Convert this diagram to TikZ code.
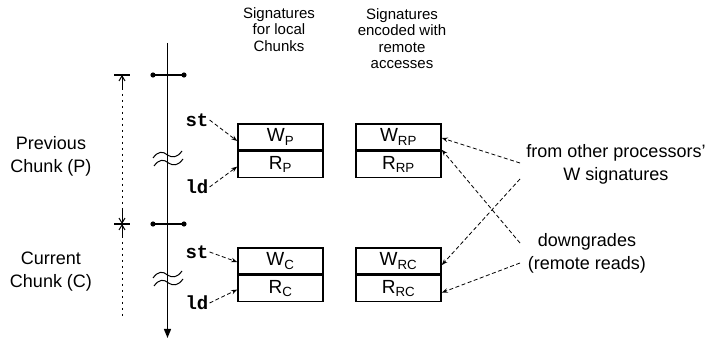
\documentclass[tikz,border=0pt]{standalone}
\usepackage{fontspec}
\setmainfont{Liberation Sans}
\setmonofont{Liberation Mono}
\usetikzlibrary{arrows.meta}
\tikzset{
  sigbox/.style={draw, line width=1.6pt, minimum width=85pt, minimum height=26pt,
    inner sep=0pt, font=\fontsize{19}{19}\selectfont},
  lbl/.style={align=center, font=\fontsize{18}{23}\selectfont, inner sep=0pt},
  hdr/.style={align=center, font=\fontsize{15}{16.5}\selectfont, inner sep=0pt},
  op/.style={font=\fontsize{19}{19}\ttfamily\bfseries, inner sep=1pt},
  feed/.style={dashed, dash pattern=on 4pt off 2.5pt, line width=0.8pt,
    -{Stealth[length=6pt,width=4.5pt,open]}},
  span/.style={line width=1pt, dash pattern=on 1.6pt off 4.4pt},
  spantip/.style={line width=1pt, -{Straight Barb[length=5pt,width=6pt]}},
  timeline/.style={line width=1.3pt, -{Triangle[length=9pt,width=7pt]}},
  tick/.style={line width=1.3pt},
  brk/.style={line width=1pt},
}
\begin{document}
\begin{tikzpicture}[x=1pt,y=-1pt]
\useasboundingbox (0,0) rectangle (713,339);

% column headings
\node[hdr] (hloc) at (279,29.5) {Signatures\\for local\\Chunks};
\node[hdr] (hrem) at (402,38.5) {Signatures\\encoded with\\remote\\accesses};

% time axis
\coordinate (ttop) at (167.5,43);
\coordinate (tbot) at (167.5,338);
\draw[timeline] (ttop) -- (tbot);

% chunk boundaries
\coordinate (b1l) at (153,75);  \coordinate (b1r) at (184,75);
\coordinate (b2l) at (153,224); \coordinate (b2r) at (184,224);
\draw[tick] (b1l) -- (b1r);
\draw[tick] (b2l) -- (b2r);
\foreach \p in {b1l,b1r,b2l,b2r} \fill (\p) circle (2.6pt);

% breaks in the time axis
\foreach \y in {155,275} {
  \draw[brk] (153,\y+3) .. controls (158,\y-4) and (163,\y-4) .. (167.5,\y)
             .. controls (172,\y+3) and (177,\y+3) .. (182,\y-4);
  \draw[brk] (154,\y+11) .. controls (159,\y+4) and (164,\y+4) .. (168.5,\y+8)
             .. controls (173,\y+11) and (178,\y+11) .. (183,\y+4);
}

% chunk extents
\coordinate (d1) at (122,75);
\coordinate (d2) at (122,224);
\coordinate (d3) at (122,316);
\draw[tick] (114,75) -- (130,75);
\draw[tick] (114,224) -- (130,224);
\draw[span] (122,88) -- (122,212);
\draw[span] (122,236) -- (d3);
\draw[spantip] (122,90) -- (d1);
\draw[spantip] (122,210) -- (d2);
\draw[spantip] (122,238) -- (d2);

\node[lbl] (prev) at (51,156.5) {Previous\\Chunk (P)};
\node[lbl] (curr) at (51,272) {Current\\Chunk (C)};

% local signatures
\node[sigbox] (wp) at (280.5,137) {W\textsubscript{P}};
\node[sigbox, anchor=north] (rp) at (wp.south) {R\textsubscript{P}};
\node[sigbox] (wc) at (280.5,261) {W\textsubscript{C}};
\node[sigbox, anchor=north] (rc) at (wc.south) {R\textsubscript{C}};

% remote signatures
\node[sigbox] (wrp) at (398.5,137) {W\textsubscript{RP}};
\node[sigbox, anchor=north] (rrp) at (wrp.south) {R\textsubscript{RP}};
\node[sigbox] (wrc) at (398.5,261) {W\textsubscript{RC}};
\node[sigbox, anchor=north] (rrc) at (wrc.south) {R\textsubscript{RC}};

% local accesses
\node[op] (st1) at (197,120) {st};
\node[op] (ld1) at (197,187) {ld};
\node[op] (st2) at (197,252) {st};
\node[op] (ld2) at (197,303) {ld};
\draw[feed] (st1.east) -- ([yshift=-4pt]wp.west);
\draw[feed] (ld1.east) -- ([yshift=-2pt]rp.west);
\draw[feed] (st2.east) -- ([yshift=-1pt]wc.west);
\draw[feed] (ld2.east) -- ([yshift=-1pt]rc.west);

% remote sources
\node[lbl] (wsig) at (616,164) {from other processors'\\W signatures};
\node[lbl] (dgr) at (587,253.5) {downgrades\\(remote reads)};
\coordinate (f1) at (520,163);
\coordinate (f2) at (520,179);
\coordinate (g1) at (520,243);
\coordinate (g2) at (520,263);
\draw[feed] (f1) -- ([yshift=-1pt]wrp.east);
\draw[feed] (f2) -- ([yshift=-4pt]wrc.east);
\draw[feed] (g1) -- ([yshift=1pt]rrp.north east);
\draw[feed] (g2) -- ([yshift=-4pt]rrc.east);
\end{tikzpicture}
\end{document}
